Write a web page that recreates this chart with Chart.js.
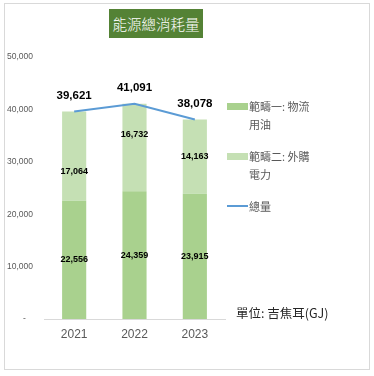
<!DOCTYPE html>
<html lang="zh-Hant">
<head>
<meta charset="utf-8">
<script src="https://cdn.jsdelivr.net/npm/chart.js@4.4.0/dist/chart.umd.min.js"></script>
<style>
  html, body { margin: 0; padding: 0; background: #fff; }
  #wrap { position: relative; width: 374px; height: 376px; overflow: hidden; }
  #frame { position: absolute; left: 4px; top: 3px; width: 366px; height: 367px; border: 1px solid #d9d9d9; box-sizing: border-box; }
  #grafico { position: absolute; left: 0; top: 0; }
  #title { position: absolute; left: 109px; top: 9px; width: 94px; height: 29px; background: #548235; color: #fff;
           font: 300 14.5px "Noto Sans CJK TC", sans-serif; line-height: 29px; text-align: center; }
  #legend { position: absolute; left: 227px; top: 97px; font: 11px "Noto Sans CJK TC", sans-serif; color: #595959; }
  .item { display: flex; align-items: flex-start; margin-bottom: 14px; }
  .sw { width: 21px; height: 7px; margin-top: 6px; margin-right: 1px; flex: none; }
  .sw.line { height: 2px; margin-top: 8px; }
  .txt { width: 66px; line-height: 18px; }
  #unit { position: absolute; left: 236px; top: 304px; font: 12.5px "Noto Sans CJK TC", sans-serif; color: #262626; line-height: 18px; }
</style>
</head>
<body>
<div id="wrap">
  <div id="frame"></div>
  <canvas id="grafico" width="374" height="376"></canvas>
  <div id="title">能源總消耗量</div>
  <div id="legend"></div>
  <div id="unit">單位: 吉焦耳(GJ)</div>
</div>
<script>
// dados do gráfico
const anos = ['2021', '2022', '2023'];
const escopo1 = [22556, 24359, 23915];
const escopo2 = [17064, 16732, 14163];
const totais = [39621, 41091, 38078];
const nomes = ['範疇一: 物流用油', '範疇二: 外購電力', '總量'];

Chart.defaults.font.family = '"Liberation Sans", "Noto Sans CJK TC", sans-serif';

// rótulos de valor (barras no centro, total acima da linha)
const rotulos = {
  id: 'rotulos',
  afterDatasetsDraw(chart, args, opts) {
    const ctx = chart.ctx;
    const ajustes = opts.ajustes || {};
    ctx.save();
    ctx.textAlign = 'center';
    ctx.textBaseline = 'middle';
    ctx.fillStyle = '#000';
    chart.data.datasets.forEach((ds, i) => {
      const meta = chart.getDatasetMeta(i);
      meta.data.forEach((el, j) => {
        const txt = ds.data[j].toLocaleString('en-US');
        if (ds.type === 'line') {
          ctx.font = 'bold 11.5px "Liberation Sans"';
          ctx.fillText(txt, el.x, el.y - 16);
        } else {
          ctx.font = 'bold 9px "Liberation Sans"';
          const dy = ajustes[i + '-' + j] || 0; // rótulos movidos à mão no original
          ctx.fillText(txt, el.x, (el.y + el.base) / 2 + dy);
        }
      });
    });
    ctx.restore();
  }
};

const ctx = document.getElementById('grafico').getContext('2d');
const grafico = new Chart(ctx, {
  data: {
    labels: anos,
    datasets: [
      { type: 'bar', label: nomes[0], data: escopo1, backgroundColor: '#A9D18E', stack: 'escopos' },
      { type: 'bar', label: nomes[1], data: escopo2, backgroundColor: '#C5E0B4', stack: 'escopos' },
      { type: 'line', label: nomes[2], data: totais, borderColor: '#5B9BD5', borderWidth: 2,
        pointRadius: 0, tension: 0, stack: 'total', order: -1 }
    ]
  },
  options: {
    responsive: false,
    animation: false,
    categoryPercentage: 1,
    barPercentage: 0.4,
    layout: { padding: { left: 1, top: 57, right: 149, bottom: 27 } },
    plugins: {
      legend: { display: false },
      tooltip: { enabled: false },
      rotulos: { ajustes: { '1-0': 15, '1-1': -13 } }
    },
    scales: {
      x: {
        stacked: true,
        grid: { display: false, drawTicks: false },
        border: { display: true, color: '#d9d9d9' },
        ticks: { color: '#595959', font: { size: 12 }, padding: 8 },
        afterFit: s => { s.height = 30; }
      },
      y: {
        stacked: true,
        min: 0,
        max: 50000,
        grid: { display: false, drawTicks: false },
        border: { display: false },
        ticks: {
          stepSize: 10000,
          padding: 11,
          color: '#595959',
          font: { size: 8.5 },
          callback: v => v === 0 ? '-   ' : v.toLocaleString('en-US')
        },
        afterFit: s => { s.width = 43; }
      }
    }
  },
  plugins: [rotulos]
});

// legenda em HTML
const legendDiv = document.getElementById('legend');
grafico.data.datasets.forEach(ds => {
  const cor = ds.type === 'line' ? ds.borderColor : ds.backgroundColor;
  legendDiv.innerHTML += `
    <div class="item">
      <div class="sw${ds.type === 'line' ? ' line' : ''}" style="background:${cor}"></div>
      <div class="txt">${ds.label}</div>
    </div>`;
});
</script>
</body>
</html>
